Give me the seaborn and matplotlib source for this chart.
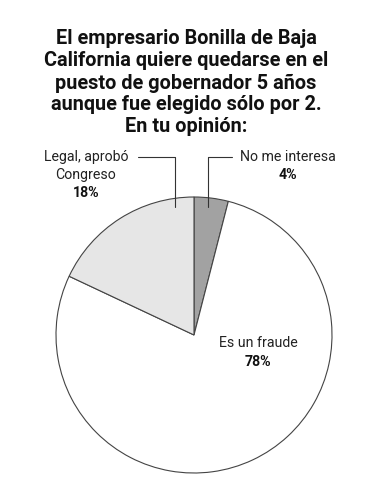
import matplotlib
matplotlib.use("Agg")
import matplotlib.pyplot as plt
import seaborn as sns

sns.set_theme(style="white")
plt.rcParams['font.family'] = ['Roboto', 'DejaVu Sans']

categories = ["No me interesa", "Es un fraude", "Legal, aprobó\nCongreso"]
values = [4, 78, 18]
pct_labels = ["4%", "78%", "18%"]
colors = ["#a2a2a2", "#ffffff", "#e6e6e6"]
title_lines = ["El empresario Bonilla de Baja", "California quiere quedarse en el",
               "puesto de gobernador 5 años", "aunque fue elegido sólo por 2.",
               "En tu opinión:"]

W, H = 387, 500
fig = plt.figure(figsize=(W / 100, H / 100), dpi=100)
ax = fig.add_axes([0, 0, 1, 1])

def Y(y):
    return H - y

cx, cy, r = 194, 335, 138
ax.pie(values, colors=colors, startangle=90, counterclock=False,
       center=(cx, Y(cy)), radius=r, frame=True,
       wedgeprops=dict(edgecolor="#444444", linewidth=0.8))
ax.set_xlim(0, W)
ax.set_ylim(0, H)
ax.set_aspect("equal")
ax.axis("off")

for i, line in enumerate(title_lines):
    ax.text(186, Y(39 + 22 * i), line, ha="center", va="center", fontsize=14.3,
            fontweight="bold", color="#111111")

lbl_fs = 10.2
txt_c = "#222222"
# Legal
legal_lines = categories[2].split("\n")
ax.text(86, Y(157), legal_lines[0], ha="center", va="center", fontsize=lbl_fs, color=txt_c)
ax.text(86, Y(175), legal_lines[1], ha="center", va="center", fontsize=lbl_fs, color=txt_c)
ax.text(86, Y(193), pct_labels[2], ha="center", va="center", fontsize=lbl_fs,
        fontweight="bold", color="#111111")
ax.plot([138, 175, 175], [Y(157), Y(157), Y(207)], color="#333333", lw=0.8)

# No me interesa
ax.text(288, Y(157), categories[0], ha="center", va="center", fontsize=lbl_fs, color=txt_c)
ax.text(288, Y(175), pct_labels[0], ha="center", va="center", fontsize=lbl_fs,
        fontweight="bold", color="#111111")
ax.plot([232, 208, 208], [Y(157), Y(157), Y(207)], color="#333333", lw=0.8)

# Es un fraude
ax.text(258, Y(343), categories[1], ha="center", va="center", fontsize=lbl_fs, color=txt_c)
ax.text(258, Y(362), pct_labels[1], ha="center", va="center", fontsize=lbl_fs,
        fontweight="bold", color="#111111")

fig.savefig("out.png", dpi=100, facecolor="white")
